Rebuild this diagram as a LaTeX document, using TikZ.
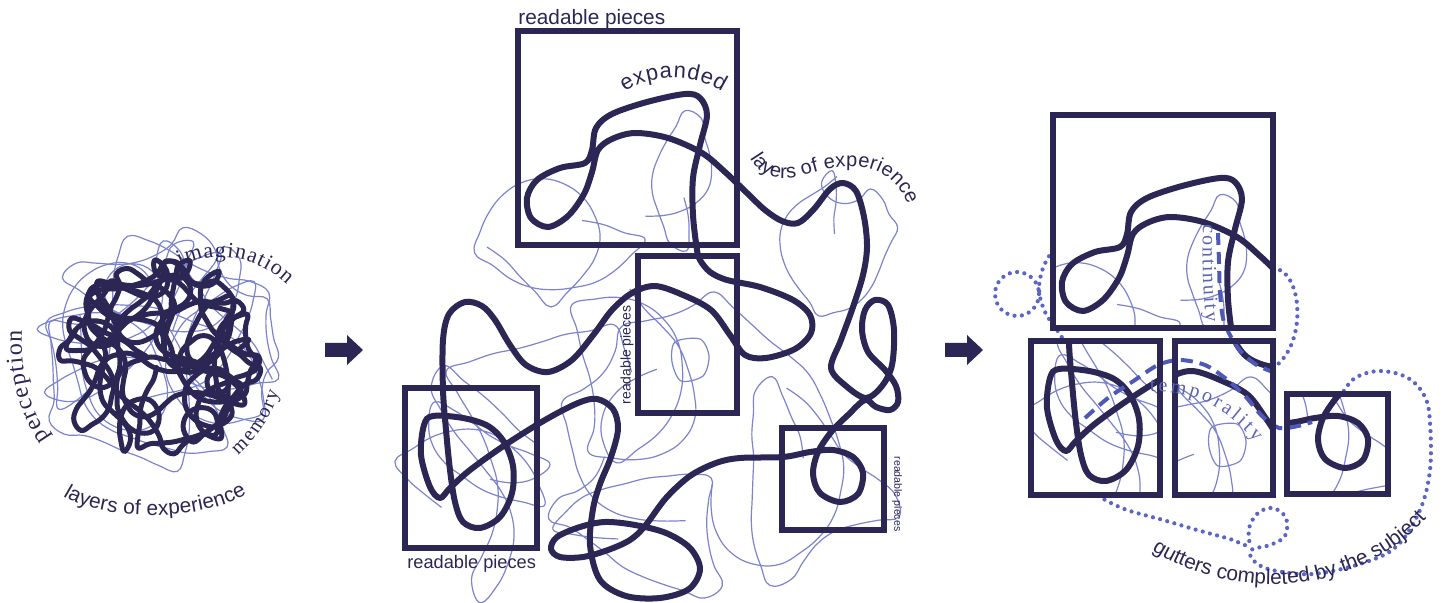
\documentclass[tikz,border=0pt]{standalone}
\usepackage{fontspec}
\setmainfont{Liberation Serif}
\setsansfont{Liberation Sans}
\usetikzlibrary{decorations.text}

\definecolor{ink}{HTML}{2B2654}
\definecolor{threadc}{HTML}{7C84CE}
\definecolor{dotc}{HTML}{5A65C6}
\definecolor{dashc}{HTML}{4E58B6}
\definecolor{softc}{HTML}{5C64B4}

\makeatletter
% smooth random walk kept near a centre: name, seed, cx, cy, radius, steps, step length, max turn
\newcommand\mkwalk[8]{%
  \pgfmathsetseed{#2}%
  \gdef\wk@pts{}%
  \xdef\wk@x{#3}\xdef\wk@y{#4}%
  \pgfmathsetmacro\wk@t{360*rnd}\global\let\wk@h\wk@t
  \gdef\wk@c{0}%
  \foreach \wk@i in {1,...,#6}{%
    \pgfmathsetmacro\wk@d{100*veclen((\wk@x-(#3))/100,(\wk@y-(#4))/100)}%
    \pgfmathsetmacro\wk@to{atan2((#4)-\wk@y,(#3)-\wk@x)}%
    \pgfmathsetmacro\wk@df{mod(\wk@to-\wk@h+540,360)-180}%
    \pgfmathsetmacro\wk@nc{0.8*\wk@c+(2*rnd-1)*(#8)}%
    \pgfmathsetmacro\wk@nh{\wk@h+\wk@nc+0.6*\wk@df*(\wk@d>(#5))}%
    \pgfmathsetmacro\wk@nh{mod(\wk@nh,360)}%
    \pgfmathsetmacro\wk@nx{\wk@x+(#7)*cos(\wk@nh)}%
    \pgfmathsetmacro\wk@ny{\wk@y+(#7)*sin(\wk@nh)}%
    \xdef\wk@pts{\wk@pts(\wk@nx,\wk@ny)}%
    \global\let\wk@x\wk@nx \global\let\wk@y\wk@ny
    \global\let\wk@h\wk@nh \global\let\wk@c\wk@nc
  }%
  \expandafter\xdef\csname wk@list@#1\endcsname{\wk@pts}%
}
\newcommand\drawwalk[2]{%
  \edef\wk@cmd{\noexpand\draw[#1] plot[smooth,tension=0.7] coordinates {\csname wk@list@#2\endcsname};}%
  \wk@cmd
}
\makeatother

\newcommand\serifword[1]{\rmfamily\fontsize{#1}{#1}\selectfont}
\newcommand\sansword[1]{\sffamily\fontsize{#1}{#1}\selectfont}

\tikzset{
  thread/.style={draw=threadc, line width=0.6pt, line join=round},
  cord/.style={draw=ink, line width=3pt, line cap=round, line join=round},
  knot/.style={draw=ink, line width=2.5pt, line cap=round, line join=round},
  frame/.style={draw=ink, line width=3.3pt},
  dotline/.style={draw=dotc, line width=2.1pt, line cap=round, dash pattern=on 0pt off 3.7pt},
  dashline/.style={draw=dashc, line width=2pt, dash pattern=on 6pt off 3.5pt},
  arrowhead/.style={fill=ink},
  lbl/.style={inner sep=0pt, text=ink},
  curved/.style={decorate, decoration={text along path, text color=ink, text align={fit to path}, text={#1}}},
  curvedsoft/.style={decorate, decoration={text along path, text color=softc, text align={fit to path}, text={#1}}}
}

% the long cord of the expanded tangle
\newcommand\midthick{%
  \draw[cord] plot[smooth cycle, tension=0.55] coordinates {
    (697,250) (693,215) (693,178) (700,145) (707,115) (700,98) (685,94) (647,102)
    (612,114) (596,128) (592,150) (585,163) (560,168) (537,180) (527,198) (531,218)
    (548,227) (568,216) (584,194) (592,172) (598,150) (612,139) (635,133) (668,138)
    (702,153) (725,172) (747,193) (765,210) (782,221) (798,223) (814,209) (830,189)
    (843,183) (856,191) (864,217) (867,247) (863,275) (853,307) (841,340) (831,368)
    (846,386) (866,398) (882,386) (892,365) (894,330) (888,305) (875,300) (865,310)
    (862,330) (868,352) (885,370) (896,386) (898,402) (890,410) (876,407) (865,400)
    (848,415) (832,431) (818,452) (813,474) (820,493) (840,502) (858,494) (863,473)
    (853,457) (833,450) (810,452) (783,457) (740,458) (716,463) (690,476) (666,498)
    (645,526) (630,540) (608,550) (583,557) (560,557) (551,549) (557,537) (580,527)
    (605,522) (635,525) (666,533) (690,548) (700,569) (689,589) (660,598) (626,596)
    (600,580) (590,545) (593,509) (600,484) (611,457) (618,429) (613,409) (597,399)
    (578,403) (545,420) (505,445) (470,470) (450,488) (440,498) (430,487) (421,455)
    (424,425) (433,416) (463,418) (488,426) (504,442) (513,466) (512,493) (500,517)
    (480,528) (463,522) (455,502) (450,470) (446,430) (443,390) (443,340) (449,314)
    (465,302) (482,306) (495,320) (510,345) (526,365) (548,372) (572,360) (594,334)
    (612,310) (632,293) (655,286) (683,295) (711,310) (730,335) (745,355) (766,358)
    (795,349) (811,333) (810,315) (793,300) (760,287) (727,280) (710,272) (700,260)};
}
% the fine threads behind it
\newcommand\midthin{%
  \drawwalk{thread}{m1}\drawwalk{thread}{m2}\drawwalk{thread}{m3}
  \drawwalk{thread}{m4}\drawwalk{thread}{m5}\drawwalk{thread}{m6}
  \drawwalk{thread}{m7}\drawwalk{thread}{m8}\drawwalk{thread}{m9}
  \draw[thread] plot[smooth cycle] coordinates {(675,342) (700,339) (709,356) (703,376) (681,381) (672,362)};
}

\begin{document}
\begin{tikzpicture}[x=0.5pt, y=-0.5pt]
\useasboundingbox (0,0) rectangle (1445,603);
\fill[white] (0,0) rectangle (1445,603);

% threads and cords
\mkwalk{b0}{7}{158}{358}{92}{115}{12}{24}
\mkwalk{c0}{8}{156}{362}{92}{115}{12}{24}
\mkwalk{d0}{9}{160}{356}{92}{115}{12}{24}
\mkwalk{e0}{10}{156}{360}{88}{105}{12}{24}
\mkwalk{b1}{3}{158}{356}{110}{60}{20}{15}
\mkwalk{b2}{4}{165}{350}{112}{60}{20}{15}
\mkwalk{b3}{5}{155}{360}{110}{60}{20}{15}
\mkwalk{b4}{6}{160}{354}{114}{55}{22}{14}
\mkwalk{m1}{21}{560}{460}{140}{36}{25}{13}
\mkwalk{m2}{22}{720}{460}{160}{36}{25}{13}
\mkwalk{m3}{23}{560}{220}{85}{30}{22}{14}
\mkwalk{m4}{24}{835}{250}{65}{32}{16}{18}
\mkwalk{m5}{25}{680}{360}{120}{34}{25}{13}
\mkwalk{m6}{26}{470}{470}{75}{30}{22}{14}
\mkwalk{m7}{27}{800}{480}{95}{30}{22}{14}
\mkwalk{m8}{28}{640}{540}{85}{30}{22}{14}
\mkwalk{m9}{29}{680}{180}{55}{22}{18}{16}

% ---- left: the dense ball ----
\drawwalk{thread}{b1}\drawwalk{thread}{b2}\drawwalk{thread}{b3}\drawwalk{thread}{b4}
\drawwalk{knot}{b0}\drawwalk{knot}{c0}\drawwalk{knot}{d0}\drawwalk{knot}{e0}

\path[curved={|\serifword{11}|imagination}] (180,266) .. controls (215,250) and (255,255) .. (287,285);
\path[curved={|\serifword{12}|perception}] (50,438) .. controls (30,410) and (20,375) .. (22,330);
\path[curved={|\serifword{10}|memory}] (238,455) .. controls (255,440) and (270,420) .. (279,392);
\path[curved={|\sansword{10.4}|layers of experience}] (63,496) .. controls (105,522) and (200,522) .. (247,494);

% arrows
\fill[arrowhead] (325,343) -- (347,343) -- (347,335) -- (363,350) -- (347,365) -- (347,357) -- (325,357) -- cycle;
\fill[arrowhead] (945,343) -- (967,343) -- (967,335) -- (983,350) -- (967,365) -- (967,357) -- (945,357) -- cycle;

% ---- middle: the tangle pulled open ----
\midthin
\midthick
\draw[frame] (518,31) rectangle (737,245);
\draw[frame] (638,256) rectangle (737,413);
\draw[frame] (405,388) rectangle (537,548);
\draw[frame] (782,428) rectangle (884,530);

\node[lbl, anchor=base west, font=\sansword{10.4}] (capA) at (518,25) {readable pieces};
\node[lbl, anchor=base west, font=\sansword{9.1}] (capC) at (407,568) {readable pieces};
\node[lbl, rotate=90, font=\sansword{7}] (capB) at (627,355) {readable pieces};
\node[lbl, rotate=-90, font=\sansword{5.3}] (capD) at (897,494) {readable pieces};
\path[curved={|\sansword{11}|expanded}] (625,92) .. controls (650,74) and (692,72) .. (722,92);
\path[curved={|\sansword{10}|layers of experience}] (750,158) .. controls (762,178) and (780,182) .. (805,175) .. controls (842,163) and (888,157) .. (908,205);

% ---- right: the pieces set in panels ----
\draw[dotline] (1017,294) circle (22);
\draw[dotline] plot[smooth, tension=0.6] coordinates {(1053,250) (1043,268) (1039,290) (1045,312) (1057,330) (1067,345)};
\draw[dotline] plot[smooth, tension=0.6] coordinates {(1098,496) (1113,504) (1130,511) (1163,520) (1197,530) (1230,539) (1248,545) (1249,528) (1258,513) (1273,508) (1286,518) (1285,536) (1270,545) (1251,550) (1254,561) (1272,570) (1313,574) (1363,563) (1397,546) (1420,510) (1430,470) (1430,423) (1425,397) (1408,378) (1380,371) (1355,378) (1342,394)};
\draw[dotline] (1273,268) .. controls (1303,270) and (1308,345) .. (1273,368);

\fill[white] (1053,115) rectangle (1273,328);
\fill[white] (1031,341) rectangle (1160,495);
\fill[white] (1175,341) rectangle (1273,495);
\fill[white] (1287,394) rectangle (1388,494);

\begin{scope}
  \clip (1053,115) rectangle (1273,328);
  \begin{scope}[shift={(535,84)}] \midthin \midthick \end{scope}
\end{scope}
\begin{scope}
  \clip (1031,341) rectangle (1160,495);
  \begin{scope}[shift={(626,-47)}] \midthin \midthick \end{scope}
\end{scope}
\begin{scope}
  \clip (1175,341) rectangle (1273,495);
  \begin{scope}[shift={(537,85)}] \midthin \midthick \end{scope}
\end{scope}
\begin{scope}
  \clip (1287,394) rectangle (1388,494);
  \begin{scope}[shift={(505,-34)}] \midthin \midthick \end{scope}
\end{scope}

\draw[dashline] plot[smooth] coordinates {(1218,233) (1219,262) (1220,292) (1224,322) (1238,348) (1255,364) (1273,372)};
\draw[dashline] plot[smooth] coordinates {(1085,418) (1108,398) (1132,382) (1158,365) (1180,360) (1205,365) (1225,378) (1245,396) (1262,416) (1279,428) (1298,426) (1312,422)};

\draw[frame] (1053,115) rectangle (1273,328);
\draw[frame] (1031,341) rectangle (1160,495);
\draw[frame] (1175,341) rectangle (1273,495);
\draw[frame] (1287,394) rectangle (1388,494);

\path[curvedsoft={|\serifword{10}|continuity}] (1203,225) .. controls (1202,260) and (1203,290) .. (1206,322);
\path[curvedsoft={|\serifword{10}|temporality}] (1150,392) .. controls (1190,390) and (1225,405) .. (1255,442);
\path[curved={|\sansword{10.4}|gutters completed by the subject}] (1152,550) .. controls (1230,600) and (1350,600) .. (1425,520);
\end{tikzpicture}
\end{document}
